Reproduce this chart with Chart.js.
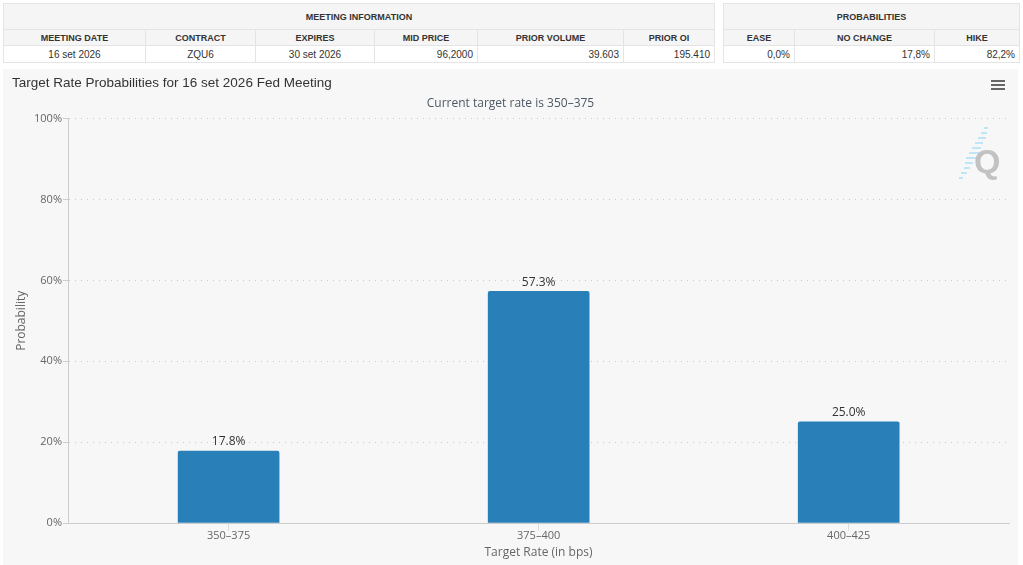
<!DOCTYPE html>
<html>
<head>
<meta charset="utf-8">
<script src="https://cdn.jsdelivr.net/npm/chart.js@4.4.0/dist/chart.umd.min.js"></script>
<style>
    body { margin: 0; background: #fff; width: 1023px; height: 565px; overflow: hidden; position: relative; }
    table { position: absolute; border-collapse: collapse; table-layout: fixed; font-family: "Liberation Sans", Arial, sans-serif; color: #333; }
    td, th { border: 1px solid #e4e4e4; padding: 0 4px; overflow: hidden; white-space: nowrap; }
    th { background: #f5f5f5; font-size: 9px; font-weight: bold; text-align: center; }
    td { background: #fff; font-size: 10px; }
    .c { text-align: center; }
    .r { text-align: right; }
    #meeting { left: 3px; top: 3px; width: 711px; }
    #probs { left: 723px; top: 3px; width: 296px; }
    .h1 { height: 26px; }
    .h2 { height: 16px; }
    .h3 { height: 17px; }
    #panel { position: absolute; left: 3px; top: 69px; width: 1015px; height: 496px; background: #f7f7f7; }
    #menu { position: absolute; left: 988px; top: 11px; width: 14px; }
    #menu div { height: 2px; background: #666; margin-bottom: 2px; }
    #logo { position: absolute; left: 950px; top: 56px; }
</style>
</head>
<body>

<table id="meeting">
    <colgroup id="meetingCols"></colgroup>
    <tr class="h1"><th colspan="6">MEETING INFORMATION</th></tr>
    <tr class="h2" id="meetingHead"></tr>
    <tr class="h3" id="meetingRow"></tr>
</table>

<table id="probs">
    <colgroup id="probColGroup"></colgroup>
    <tr class="h1"><th colspan="3">PROBABILITIES</th></tr>
    <tr class="h2" id="probHead"></tr>
    <tr class="h3" id="probRow"></tr>
</table>

<div id="panel">
    <canvas id="chartProb"></canvas>
    <div id="menu"><div></div><div></div><div></div></div>
    <svg id="logo" width="50" height="60" viewBox="0 0 50 60">
        <g stroke="#ade0f7" stroke-width="1.5">
            <line x1="31" y1="3" x2="35" y2="3"/>
            <line x1="28" y1="8" x2="34" y2="8"/>
            <line x1="25" y1="13" x2="33" y2="13"/>
            <line x1="22" y1="18" x2="30" y2="18"/>
            <line x1="19" y1="23" x2="28" y2="23"/>
            <line x1="16" y1="28" x2="26" y2="28"/>
            <line x1="13" y1="33" x2="24" y2="33"/>
            <line x1="12" y1="38" x2="20" y2="38"/>
            <line x1="11" y1="43" x2="17" y2="43"/>
            <line x1="8" y1="48" x2="14" y2="48"/>
            <line x1="6" y1="53" x2="10" y2="53"/>
        </g>
        <text x="21" y="48" font-family="Liberation Sans, Arial" font-weight="bold" font-size="34" fill="#c2c2c2">Q</text>
    </svg>
</div>

<script>
// --- DATA ---
const meetingCols = ['MEETING DATE', 'CONTRACT', 'EXPIRES', 'MID PRICE', 'PRIOR VOLUME', 'PRIOR OI'];
const meetingVals = ['16 set 2026', 'ZQU6', '30 set 2026', '96,2000', '39.603', '195.410'];
const meetingAlign = ['c', 'c', 'c', 'r', 'r', 'r'];
const meetingWidths = [142, 110, 119, 103, 146, 91];

const probCols = ['EASE', 'NO CHANGE', 'HIKE'];
const probVals = ['0,0%', '17,8%', '82,2%'];
const probWidths = [71, 140, 85];

const rateLabels = ['350\u2013375', '375\u2013400', '400\u2013425'];
const probValues = [17.8, 57.3, 25.0];
const yTicks = [0, 20, 40, 60, 80, 100];

// --- TABLES ---
function fillTable(colsId, headId, rowId, cols, vals, aligns, widths) {
    const group = document.getElementById(colsId);
    const head = document.getElementById(headId);
    const row = document.getElementById(rowId);
    cols.forEach((c, i) => {
        const col = document.createElement('col');
        col.style.width = widths[i] + 'px';
        group.appendChild(col);
        const th = document.createElement('th');
        th.textContent = c;
        head.appendChild(th);
        const td = document.createElement('td');
        td.textContent = vals[i];
        td.className = aligns[i];
        row.appendChild(td);
    });
}
fillTable('meetingCols', 'meetingHead', 'meetingRow', meetingCols, meetingVals, meetingAlign, meetingWidths);
fillTable('probColGroup', 'probHead', 'probRow', probCols, probVals, ['r', 'r', 'r'], probWidths);

// --- CHART ---
const tickFont = { family: '"Open Sans", sans-serif', size: 11 };
const axisFont = { family: '"Open Sans", sans-serif', size: 12 };

// value labels above each bar
const barLabels = {
    id: 'barLabels',
    afterDatasetsDraw(chart) {
        const ctx = chart.ctx;
        const meta = chart.getDatasetMeta(0);
        ctx.save();
        ctx.font = '12px "Open Sans", sans-serif';
        ctx.fillStyle = '#333';
        ctx.textAlign = 'center';
        ctx.textBaseline = 'bottom';
        meta.data.forEach((bar, i) => {
            ctx.fillText(probValues[i].toFixed(1) + '%', bar.x, bar.y - 3);
        });
        ctx.restore();
    }
};

new Chart(document.getElementById('chartProb').getContext('2d'), {
    type: 'bar',
    data: {
        datasets: [{
            data: probValues.map((v, i) => ({ x: i, y: v })),
            backgroundColor: '#2980b9',
            borderRadius: 2,
            barThickness: 101
        }]
    },
    options: {
        responsive: true,
        maintainAspectRatio: false,
        animation: false,
        layout: { padding: { left: 9, right: 9, top: 0, bottom: 0 } },
        plugins: {
            legend: { display: false },
            tooltip: { enabled: false },
            title: {
                display: true,
                text: 'Target Rate Probabilities for 16 set 2026 Fed Meeting',
                align: 'start',
                color: '#333',
                font: { family: '"Liberation Sans", Arial, sans-serif', size: 13.5, weight: 'normal' },
                padding: { top: 6, bottom: 2 }
            },
            subtitle: {
                display: true,
                text: 'Current target rate is 350\u2013375',
                color: '#4d5966',
                font: axisFont,
                padding: { top: 3, bottom: 8 }
            }
        },
        scales: {
            x: {
                type: 'linear',
                min: -0.518,
                max: 2.517,
                offset: false,
                afterFit: s => { s.height = 42; },
                afterBuildTicks: s => { s.ticks = rateLabels.map((l, i) => ({ value: i })); },
                grid: { offset: false, drawOnChartArea: false, drawTicks: true, tickLength: 8, tickColor: '#ddd' },
                border: { color: '#ccc' },
                ticks: { color: '#666', font: tickFont, padding: -2, callback: v => rateLabels[v] },
                title: { display: true, text: 'Target Rate (in bps)', color: '#666', font: axisFont, padding: { top: 0, bottom: 5 } }
            },
            y: {
                min: 0,
                max: 100,
                afterFit: s => { s.width = 56; },
                afterBuildTicks: s => { s.ticks = yTicks.map(v => ({ value: v })); },
                grid: { color: '#c8c8c8', tickLength: 5, tickColor: '#ccc', tickBorderDash: [] },
                border: { color: '#ccc', dash: [1, 5] },
                ticks: { color: '#666', font: tickFont, padding: 1, callback: v => v + '%' },
                title: { display: true, text: 'Probability', color: '#666', font: axisFont, padding: { top: 2, bottom: 0 } }
            }
        }
    },
    plugins: [barLabels]
});
</script>
</body>
</html>
